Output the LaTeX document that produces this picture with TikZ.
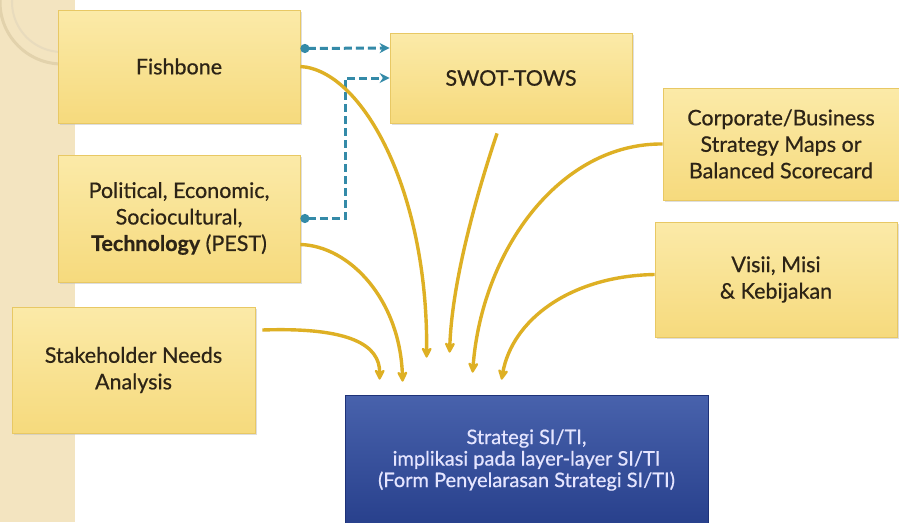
\documentclass[tikz,border=0pt]{standalone}
\usepackage{fontspec}
\setmainfont{Lato}[FakeBold=0.6]
\usetikzlibrary{arrows.meta,shadows,calc}
\definecolor{strip}{RGB}{243,228,192}
\definecolor{ring}{RGB}{226,210,172}
\definecolor{yelTop}{RGB}{251,234,168}
\definecolor{yelBot}{RGB}{246,218,125}
\definecolor{yelEdge}{RGB}{232,200,100}
\definecolor{bluTop}{RGB}{72,98,172}
\definecolor{bluBot}{RGB}{40,64,140}
\definecolor{bluEdge}{RGB}{30,50,120}
\definecolor{gold}{RGB}{222,176,36}
\definecolor{teal}{RGB}{52,138,168}
\definecolor{txt}{RGB}{45,36,22}
\tikzset{
  ybox/.style={draw=yelEdge, line width=0.8pt, top color=yelTop, bottom color=yelBot,
    drop shadow={shadow xshift=2pt, shadow yshift=-2pt, fill=black!25},
    align=center, text=txt, font=\fontsize{21.5}{26.5}\selectfont, inner sep=0pt},
  bbox/.style={draw=bluEdge, line width=0.8pt, top color=bluTop, bottom color=bluBot,
    align=center, text=white!90!blue, font=\fontsize{20}{21.5}\selectfont, inner sep=0pt},
  garrow/.style={draw=gold, line width=3.4pt, -{Stealth[length=13pt,width=13pt,round]}},
  darrow/.style={draw=teal, line width=3pt, dash pattern=on 8pt off 4pt,
    {Circle[length=9pt,width=9pt]}-{Stealth[length=10pt,width=10pt]}},
}
\begin{document}
\begin{tikzpicture}[x=1pt,y=-1pt]
\useasboundingbox (0,0) rectangle (899,522);
\fill[white] (0,0) rectangle (899,522);
% left decorative strip
\fill[strip] (0,0) rectangle (75,522);
\begin{scope}
\clip (0,0) rectangle (75,120);
\draw[ring, line width=3pt] (62,2) circle[radius=62];
\draw[ring!80!white, line width=2pt] (62,2) circle[radius=50];
\end{scope}
% boxes
\node[ybox, minimum width=242pt, minimum height=113pt] (fish) at (179,66.5) {Fishbone};
\node[ybox, minimum width=242pt, minimum height=90pt] (swot) at (511,78) {SWOT-TOWS};
\node[ybox, minimum width=242pt, minimum height=127pt] (pest) at (179,218.5)
  {Political, Economic,\\Sociocultural,\\\textbf{Technology} (PEST)};
\node[ybox, minimum width=236pt, minimum height=112pt] (corp) at (781,144)
  {Corporate/Business\\Strategy Maps or\\Balanced Scorecard};
\node[ybox, minimum width=242pt, minimum height=115pt] (visi) at (776,279.5)
  {Visii, Misi\\\& Kebijakan};
\node[ybox, minimum width=243pt, minimum height=126pt] (stake) at (133.5,370)
  {Stakeholder Needs\\Analysis};
\node[bbox, minimum width=363pt, minimum height=130pt] (strat) at (526.5,460)
  {Strategi SI/TI,\\implikasi pada layer-layer SI/TI\\(Form Penyelarasan Strategi SI/TI)};
% dashed connectors
\draw[darrow] ([yshift=18pt]fish.east) -- ([yshift=30pt]swot.west);
\coordinate (bend) at (345,218.5);
\draw[darrow] (pest.east) -- (bend) |- (swot.west);
% gold curved arrows
\draw[garrow] (fish.east) .. controls (362,70) and (428,190) .. ([xshift=82pt,yshift=37pt]strat.north west);
\draw[garrow] ([yshift=-26pt]pest.east) .. controls (350,246) and (400,300) .. ([xshift=58pt,yshift=13pt]strat.north west);
\draw[garrow] ([xshift=7pt,yshift=40pt]stake.east) .. controls (350,327) and (380,345) .. ([xshift=35pt,yshift=15pt]strat.north west);
\draw[garrow] ([xshift=-14pt,yshift=-10pt]swot.south) .. controls (478,190) and (452,280) .. ([xshift=105pt,yshift=42pt]strat.north west);
\draw[garrow] (corp.west) .. controls (560,143) and (482,250) .. ([xshift=128pt,yshift=22pt]strat.north west);
\draw[garrow] ([yshift=5pt]visi.west) .. controls (570,276) and (512,320) .. ([xshift=157pt,yshift=15pt]strat.north west);
\end{tikzpicture}
\end{document}
